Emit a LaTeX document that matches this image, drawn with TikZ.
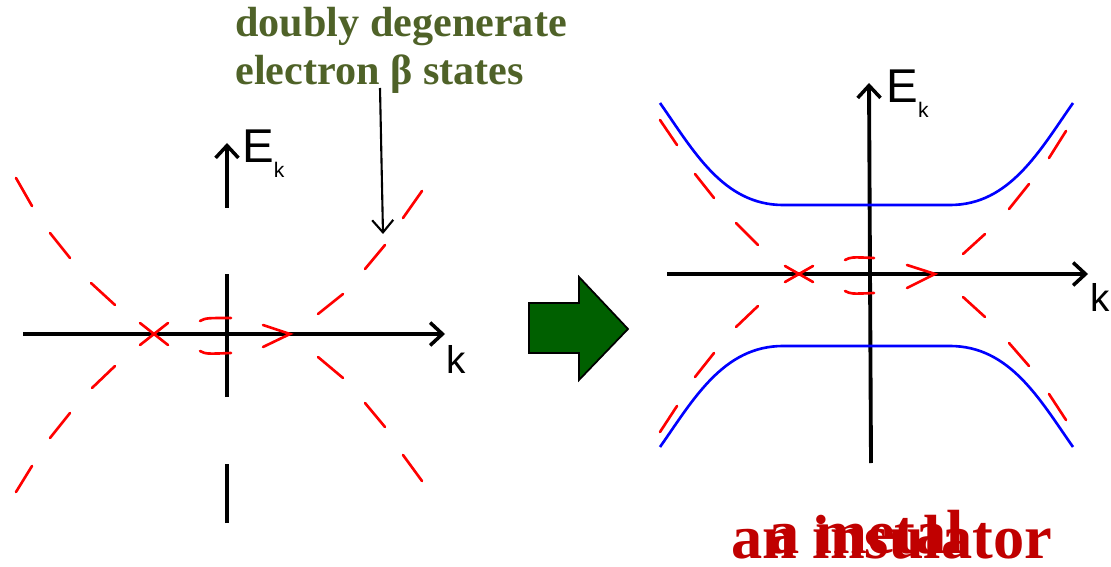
\documentclass[tikz,border=0pt]{standalone}
\usepackage{fontspec}
\setmainfont{Liberation Serif}
\newfontfamily\arialf{Liberation Sans}
\usetikzlibrary{arrows.meta}
\definecolor{olivetxt}{HTML}{4F6228}
\definecolor{redtxt}{HTML}{C00000}
\definecolor{arrgreen}{HTML}{006000}
\newcommand{\subk}{\raisebox{-0.3em}{\fontsize{12pt}{12pt}\selectfont k}}
\tikzset{
  axis/.style={line width=2.2pt, black},
  axtip/.style={-{Straight Barb[length=7pt,width=13pt,line width=2pt]}},
  rd/.style={red, line width=1.5pt, line cap=round},
  bl/.style={blue, line width=1.5pt},
  lbl/.style={font=\arialf\fontsize{27pt}{29pt}\selectfont, inner sep=0pt},
  klbl/.style={font=\arialf\fontsize{22pt}{24pt}\selectfont, inner sep=0pt},
  anno/.style={text=olivetxt, font=\bfseries\fontsize{24pt}{28pt}\selectfont, inner sep=0pt, anchor=base west},
  verdict/.style={text=redtxt, font=\bfseries\fontsize{35.5pt}{40pt}\selectfont, inner sep=0pt, anchor=base west},
}
\begin{document}
\begin{tikzpicture}[x=0.02cm, y=-0.02cm]
\useasboundingbox (0,0) rectangle (1111,567);

% ---------- annotation ----------
\node[anno] (t1) at (235,37) {doubly degenerate};
\node[anno] (t2) at (235,85) {electron β states};
\coordinate (aS) at (380,88);
\coordinate (aE) at (383,234);
\draw[line width=1.2pt, -{Straight Barb[length=7pt,width=12pt,line width=1.2pt]}] (aS) -- (aE);

% ---------- left panel ----------
\coordinate (Lk0) at (23,334);
\coordinate (Lk1) at (445,334);
\draw[axis, axtip] (Lk0) -- (Lk1);
\node[klbl, anchor=base west] (Lk) at (446,373) {k};
\coordinate (Lv0) at (227,523);
\coordinate (Lv1) at (227,464);
\coordinate (Lv2) at (227,397);
\coordinate (Lv3) at (227,274);
\coordinate (Lv4) at (227,208);
\coordinate (Lv5) at (227,143);
\draw[axis] (Lv0) -- (Lv1);
\draw[axis] (Lv2) -- (Lv3);
\draw[axis, axtip] (Lv4) -- (Lv5);
\node[lbl, anchor=base west] (LE) at (242,163) {E\subk};

% red dashes, left
\draw[rd] (16,178) -- (32,206);
\draw[rd] (50,233) -- (70,258);
\draw[rd] (91,283) -- (115,305);
\draw[rd] (140,323) -- (168,345);
\draw[rd] (140,345) -- (168,323);
\draw[rd] (115,366) -- (92,388);
\draw[rd] (70,413) -- (50,438);
\draw[rd] (32,466) -- (16,492);
\draw[rd] (318,314) -- (343,294);
\draw[rd] (365,269) -- (385,245);
\draw[rd] (403,218) -- (422,191);
\draw[rd] (318,357) -- (343,378);
\draw[rd] (365,403) -- (385,427);
\draw[rd] (403,455) -- (422,481);
\draw[rd] (263,325) -- (290,334) -- (263,347);
\draw[rd] (200,321) .. controls (206,318) .. (231,318);
\draw[rd] (200,351) .. controls (206,354) .. (231,353);

% ---------- green block arrow ----------
\draw[black, line width=1pt, fill=arrgreen]
  (529,303) -- (579,303) -- (579,277) -- (628,329) -- (579,380) -- (579,353) -- (529,353) -- cycle;

% ---------- right panel ----------
\coordinate (Rk0) at (667,274);
\coordinate (Rk1) at (1088,274);
\draw[axis, axtip] (Rk0) -- (Rk1);
\node[klbl, anchor=base west] (Rk) at (1090,312) {k};
\coordinate (Rv0) at (871,463);
\coordinate (Rv1) at (869,83);
\draw[axis, axtip] (Rv0) -- (Rv1);
\node[lbl, anchor=base west] (RE) at (886,103) {E\subk};

% blue bands
\draw[bl] (660,103) .. controls (693,150) and (723,205) .. (783,205) -- (950,205)
          .. controls (1010,205) and (1040,150) .. (1073,103);
\draw[bl] (660,447) .. controls (693,400) and (723,346) .. (783,346) -- (950,346)
          .. controls (1010,346) and (1040,400) .. (1073,447);

% red dashes, right
\draw[rd] (660,120) -- (677,145);
\draw[rd] (695,174) -- (714,198);
\draw[rd] (736,223) -- (758,245);
\draw[rd] (785,266) -- (813,282);
\draw[rd] (785,282) -- (813,266);
\draw[rd] (758,306) -- (736,327);
\draw[rd] (714,353) -- (695,377);
\draw[rd] (677,406) -- (660,432);
\draw[rd] (963,254) -- (985,234);
\draw[rd] (1009,209) -- (1029,184);
\draw[rd] (1049,158) -- (1066,131);
\draw[rd] (963,297) -- (985,317);
\draw[rd] (1009,343) -- (1029,366);
\draw[rd] (1049,394) -- (1066,420);
\draw[rd] (907,265) -- (935,274) -- (907,288);
\draw[rd] (845,260) .. controls (851,257) .. (874,258);
\draw[rd] (845,291) .. controls (851,294) .. (874,293);

% ---------- verdict labels ----------
\node[verdict] (ins) at (731,558) {an insulator};
\node[verdict] (met) at (768,553) {a metal};
\end{tikzpicture}
\end{document}
